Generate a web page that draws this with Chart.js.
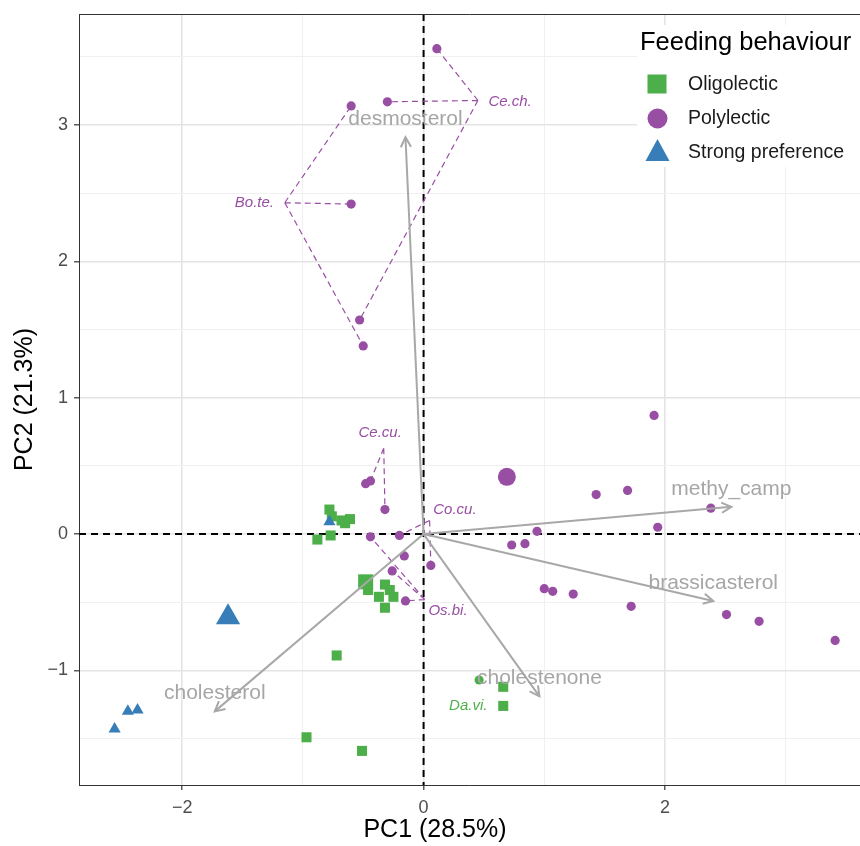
<!doctype html>
<html lang="en">
<head>
<meta charset="utf-8">
<title>PCA biplot - feeding behaviour</title>
<script src="https://cdn.jsdelivr.net/npm/chart.js"></script>
<style>
  html, body { margin: 0; padding: 0; background: #fff; overflow: hidden; }
  #wrap { width: 860px; height: 846px; overflow: hidden; }
</style>
</head>
<body>
<div id="wrap"><canvas id="pca" width="874" height="846"></canvas></div>
<script>
// axis ticks (major + minor grid positions)
const xTicks = [-2, -1, 0, 1, 2, 3];
const xLabels = ['\u22122', '', '0', '', '2', ''];
const yTicks = [-1.5, -1, -0.5, 0, 0.5, 1, 1.5, 2, 2.5, 3, 3.5];
const yLabels = ['', '\u22121', '', '0', '', '1', '', '2', '', '3', ''];

// Polylectic species scores
const polyX = [0.11, -0.60, -0.30, -0.60, -0.53, -0.50, -0.48, -0.44, -0.32, -0.44, -0.20, -0.16, 0.06, -0.26, -0.15,
               1.91, 1.43, 1.69, 2.38, 1.94, 0.94, 0.73, 0.84, 1.00, 1.07, 1.24, 1.72, 2.51, 2.78, 3.41];
const polyY = [3.56, 3.14, 3.17, 2.42, 1.57, 1.38, 0.37, 0.39, 0.18, -0.02, -0.01, -0.16, -0.23, -0.27, -0.49,
               0.87, 0.29, 0.32, 0.19, 0.05, 0.02, -0.08, -0.07, -0.40, -0.42, -0.44, -0.53, -0.59, -0.64, -0.78];
const polyGroup = ['Ce.ch.', 'Bo.te.', 'Ce.ch.', 'Bo.te.', 'Ce.ch.', 'Bo.te.', '', 'Ce.cu.', 'Ce.cu.', 'Os.bi.', 'Co.cu.', '', 'Co.cu.', 'Os.bi.', 'Os.bi.',
                   '', '', '', '', '', '', '', '', '', '', '', '', '', '', ''];

// Oligolectic
const oligoX = [-0.78, -0.76, -0.68, -0.61, -0.65, -0.88, -0.77, -0.46, -0.32, -0.28, -0.37, -0.25, -0.32, -0.72, -0.97, -0.51, 0.66, 0.66];
const oligoY = [0.18, 0.13, 0.10, 0.11, 0.08, -0.04, -0.01, -0.41, -0.37, -0.41, -0.46, -0.46, -0.54, -0.89, -1.49, -1.59, -1.12, -1.26];
const oligoDotX = [0.46];
const oligoDotY = [-1.07];

// Strong preference
const strongX = [-0.78, -2.45, -2.37, -2.56];
const strongY = [0.09, -1.30, -1.29, -1.43];

// group means: Oligolectic, Polylectic, Strong preference
const meanX = [-0.48, 0.69, -1.62];
const meanY = [-0.35, 0.42, -0.61];

// sterol loadings
const loadNames = ['desmosterol', 'methy_camp', 'brassicasterol', 'cholestenone', 'cholesterol'];
const loadX = [-0.15, 2.55, 2.40, 0.96, -1.73];
const loadY = [2.91, 0.20, -0.49, -1.19, -1.30];

// species labels
const groupNames = ['Ce.ch.', 'Bo.te.', 'Ce.cu.', 'Co.cu.', 'Os.bi.', 'Da.vi.'];
const groupAnchorX = [0.45, -1.15, -0.33, 0.05, 0.01, 0.37];
const groupAnchorY = [3.18, 2.43, 0.63, 0.10, -0.48, -1.26];
const groupTextX = [0.537, -1.239, -0.36, 0.08, 0.04, 0.37];
const groupTextY = [3.17, 2.43, 0.74, 0.18, -0.56, -1.26];
const groupAlign = ['left', 'right', 'center', 'left', 'left', 'center'];
const groupColor = ['poly', 'poly', 'poly', 'poly', 'poly', 'oligo'];

const GREEN = '#4DAF4A', PURPLE = '#984EA3', BLUE = '#377EB8', ARROW = '#a8a8a8';
const FONT = "'Liberation Sans', Arial, sans-serif";

const pts = (xs, ys) => xs.map((v, i) => ({x: v, y: ys[i]}));

const datasets = [];
loadX.forEach((v, i) => {
  datasets.push({
    label: loadNames[i], data: [{x: 0, y: 0}, {x: v, y: loadY[i]}],
    showLine: true, borderColor: ARROW, borderWidth: 2, pointRadius: 0, pointHoverRadius: 0
  });
});
datasets.push({label: 'Strong preference', data: pts(strongX, strongY), pointStyle: 'triangle', pointRadius: 7, backgroundColor: BLUE, borderWidth: 0});
datasets.push({label: 'Polylectic', data: pts(polyX, polyY), pointStyle: 'circle', pointRadius: 4.6, backgroundColor: PURPLE, borderWidth: 0});
datasets.push({label: 'Oligolectic', data: pts(oligoX, oligoY), pointStyle: 'rect', pointRadius: 7.1, backgroundColor: GREEN, borderWidth: 0});
datasets.push({label: 'Oligolectic dot', data: pts(oligoDotX, oligoDotY), pointStyle: 'circle', pointRadius: 4.6, backgroundColor: GREEN, borderWidth: 0});
datasets.push({
  label: 'means', data: pts(meanX, meanY),
  pointStyle: ['rect', 'circle', 'triangle'], pointRadius: [10.6, 9, 14],
  backgroundColor: [GREEN, PURPLE, BLUE], borderWidth: 0
});

const overlay = {
  id: 'overlay',
  beforeDatasetsDraw(chart) {
    const {ctx, chartArea: a, scales: {x, y}} = chart;
    ctx.save();
    // legend background hides the grid
    ctx.fillStyle = '#fff';
    ctx.fillRect(637, 25, 260, 142);
    // dashed zero lines
    const x0 = x.getPixelForValue(0), y0 = y.getPixelForValue(0);
    ctx.strokeStyle = '#000';
    ctx.lineWidth = 2;
    ctx.setLineDash([7, 5]);
    ctx.beginPath();
    ctx.moveTo(x0, a.top); ctx.lineTo(x0, a.bottom);
    ctx.moveTo(a.left, y0); ctx.lineTo(a.right, y0);
    ctx.stroke();
    // dashed links from species labels to their points
    ctx.strokeStyle = PURPLE;
    ctx.lineWidth = 1.2;
    ctx.setLineDash([6, 4]);
    ctx.beginPath();
    polyGroup.forEach((g, i) => {
      if (!g) return;
      const k = groupNames.indexOf(g);
      ctx.moveTo(x.getPixelForValue(groupAnchorX[k]), y.getPixelForValue(groupAnchorY[k]));
      ctx.lineTo(x.getPixelForValue(polyX[i]), y.getPixelForValue(polyY[i]));
    });
    ctx.stroke();
    ctx.restore();
  },
  afterDatasetsDraw(chart) {
    const {ctx, scales: {x, y}} = chart;
    const x0 = x.getPixelForValue(0), y0 = y.getPixelForValue(0);
    ctx.save();
    // arrow heads + loading labels
    ctx.strokeStyle = ARROW;
    ctx.lineWidth = 2;
    ctx.fillStyle = '#a6a6a6';
    ctx.font = '21px ' + FONT;
    ctx.textAlign = 'center';
    ctx.textBaseline = 'middle';
    loadX.forEach((v, i) => {
      const ex = x.getPixelForValue(v), ey = y.getPixelForValue(loadY[i]);
      const ang = Math.atan2(ey - y0, ex - x0);
      const len = 11, spread = Math.PI / 6.5;
      ctx.beginPath();
      ctx.moveTo(ex - len * Math.cos(ang - spread), ey - len * Math.sin(ang - spread));
      ctx.lineTo(ex, ey);
      ctx.lineTo(ex - len * Math.cos(ang + spread), ey - len * Math.sin(ang + spread));
      ctx.stroke();
      ctx.fillText(loadNames[i], ex, ey - 18);
    });
    // species labels
    ctx.font = 'italic 15px ' + FONT;
    groupNames.forEach((g, k) => {
      ctx.fillStyle = groupColor[k] === 'oligo' ? GREEN : PURPLE;
      ctx.textAlign = groupAlign[k];
      ctx.fillText(g, x.getPixelForValue(groupTextX[k]), y.getPixelForValue(groupTextY[k]));
    });
    ctx.restore();
  },
  afterDraw(chart) {
    const {ctx, chartArea: a} = chart;
    ctx.save();
    // top panel border
    ctx.strokeStyle = '#333';
    ctx.lineWidth = 1;
    ctx.beginPath();
    ctx.moveTo(a.left, a.top + 0.5); ctx.lineTo(a.right, a.top + 0.5);
    ctx.stroke();
    // x axis title
    ctx.fillStyle = '#000';
    ctx.textAlign = 'center';
    ctx.textBaseline = 'middle';
    ctx.font = '25px ' + FONT;
    ctx.fillText('PC1 (28.5%)', 435, 830);
    // legend
    ctx.textAlign = 'left';
    ctx.font = '25.5px ' + FONT;
    ctx.fillText('Feeding behaviour', 640, 43);
    ctx.font = '19.5px ' + FONT;
    ctx.fillStyle = '#1a1a1a';
    ctx.fillText('Oligolectic', 688, 85);
    ctx.fillText('Polylectic', 688, 119);
    ctx.fillText('Strong preference', 688, 153);
    ctx.fillStyle = GREEN;
    ctx.fillRect(647.5, 74.5, 19, 19);
    ctx.fillStyle = PURPLE;
    ctx.beginPath(); ctx.arc(657.5, 118.5, 10, 0, Math.PI * 2); ctx.fill();
    ctx.fillStyle = BLUE;
    ctx.beginPath(); ctx.moveTo(657.5, 139); ctx.lineTo(669.5, 161); ctx.lineTo(645.5, 161); ctx.closePath(); ctx.fill();
    ctx.restore();
  }
};

const majorGrid = (c) => (c.tick && Number.isInteger(c.tick.value) ? '#e4e4e4' : '#f0f0f0');
const majorX = (c) => (c.tick && c.tick.value % 2 === 0 ? '#e4e4e4' : '#f0f0f0');

new Chart(document.getElementById('pca'), {
  type: 'scatter',
  data: {datasets},
  plugins: [overlay],
  options: {
    responsive: false,
    devicePixelRatio: 1,
    animation: false,
    events: [],
    layout: {padding: {top: 10, left: 0, right: 0, bottom: 0}},
    plugins: {legend: {display: false}, tooltip: {enabled: false}},
    scales: {
      x: {
        type: 'linear', min: -2.855, max: 3.616,
        afterBuildTicks: (s) => { s.ticks = xTicks.map(v => ({value: v})); },
        afterFit: (s) => { s.height = 61; s.paddingLeft = 0; s.paddingRight = 0; },
        ticks: {
          callback: (v) => xLabels[xTicks.indexOf(v)] ?? '',
          color: '#4d4d4d', font: {family: FONT, size: 18}, padding: 7, maxRotation: 0, autoSkip: false
        },
        grid: {
          color: majorX, lineWidth: (c) => (c.tick && c.tick.value % 2 === 0 ? 1.6 : 1),
          tickColor: (c) => (c.tick && c.tick.value % 2 === 0 ? '#333' : 'rgba(0,0,0,0)'),
          tickLength: 5, tickWidth: 1.2
        },
        border: {display: true, color: '#333', width: 1},
        title: {display: false}
      },
      y: {
        type: 'linear', min: -1.84, max: 3.814,
        afterBuildTicks: (s) => { s.ticks = yTicks.map(v => ({value: v})); },
        afterFit: (s) => { s.width = 79; s.paddingTop = 0; s.paddingBottom = 0; },
        ticks: {
          callback: (v) => yLabels[yTicks.indexOf(v)] ?? '',
          color: '#4d4d4d', font: {family: FONT, size: 18}, padding: 6, autoSkip: false
        },
        grid: {
          color: majorGrid, lineWidth: (c) => (c.tick && Number.isInteger(c.tick.value) ? 1.6 : 1),
          tickColor: (c) => (c.tick && Number.isInteger(c.tick.value) ? '#333' : 'rgba(0,0,0,0)'),
          tickLength: 5, tickWidth: 1.2
        },
        border: {display: true, color: '#333', width: 1},
        title: {display: true, text: 'PC2 (21.3%)', color: '#000', font: {family: FONT, size: 25}, padding: {top: 10, bottom: 0}}
      }
    }
  }
});
</script>
</body>
</html>
